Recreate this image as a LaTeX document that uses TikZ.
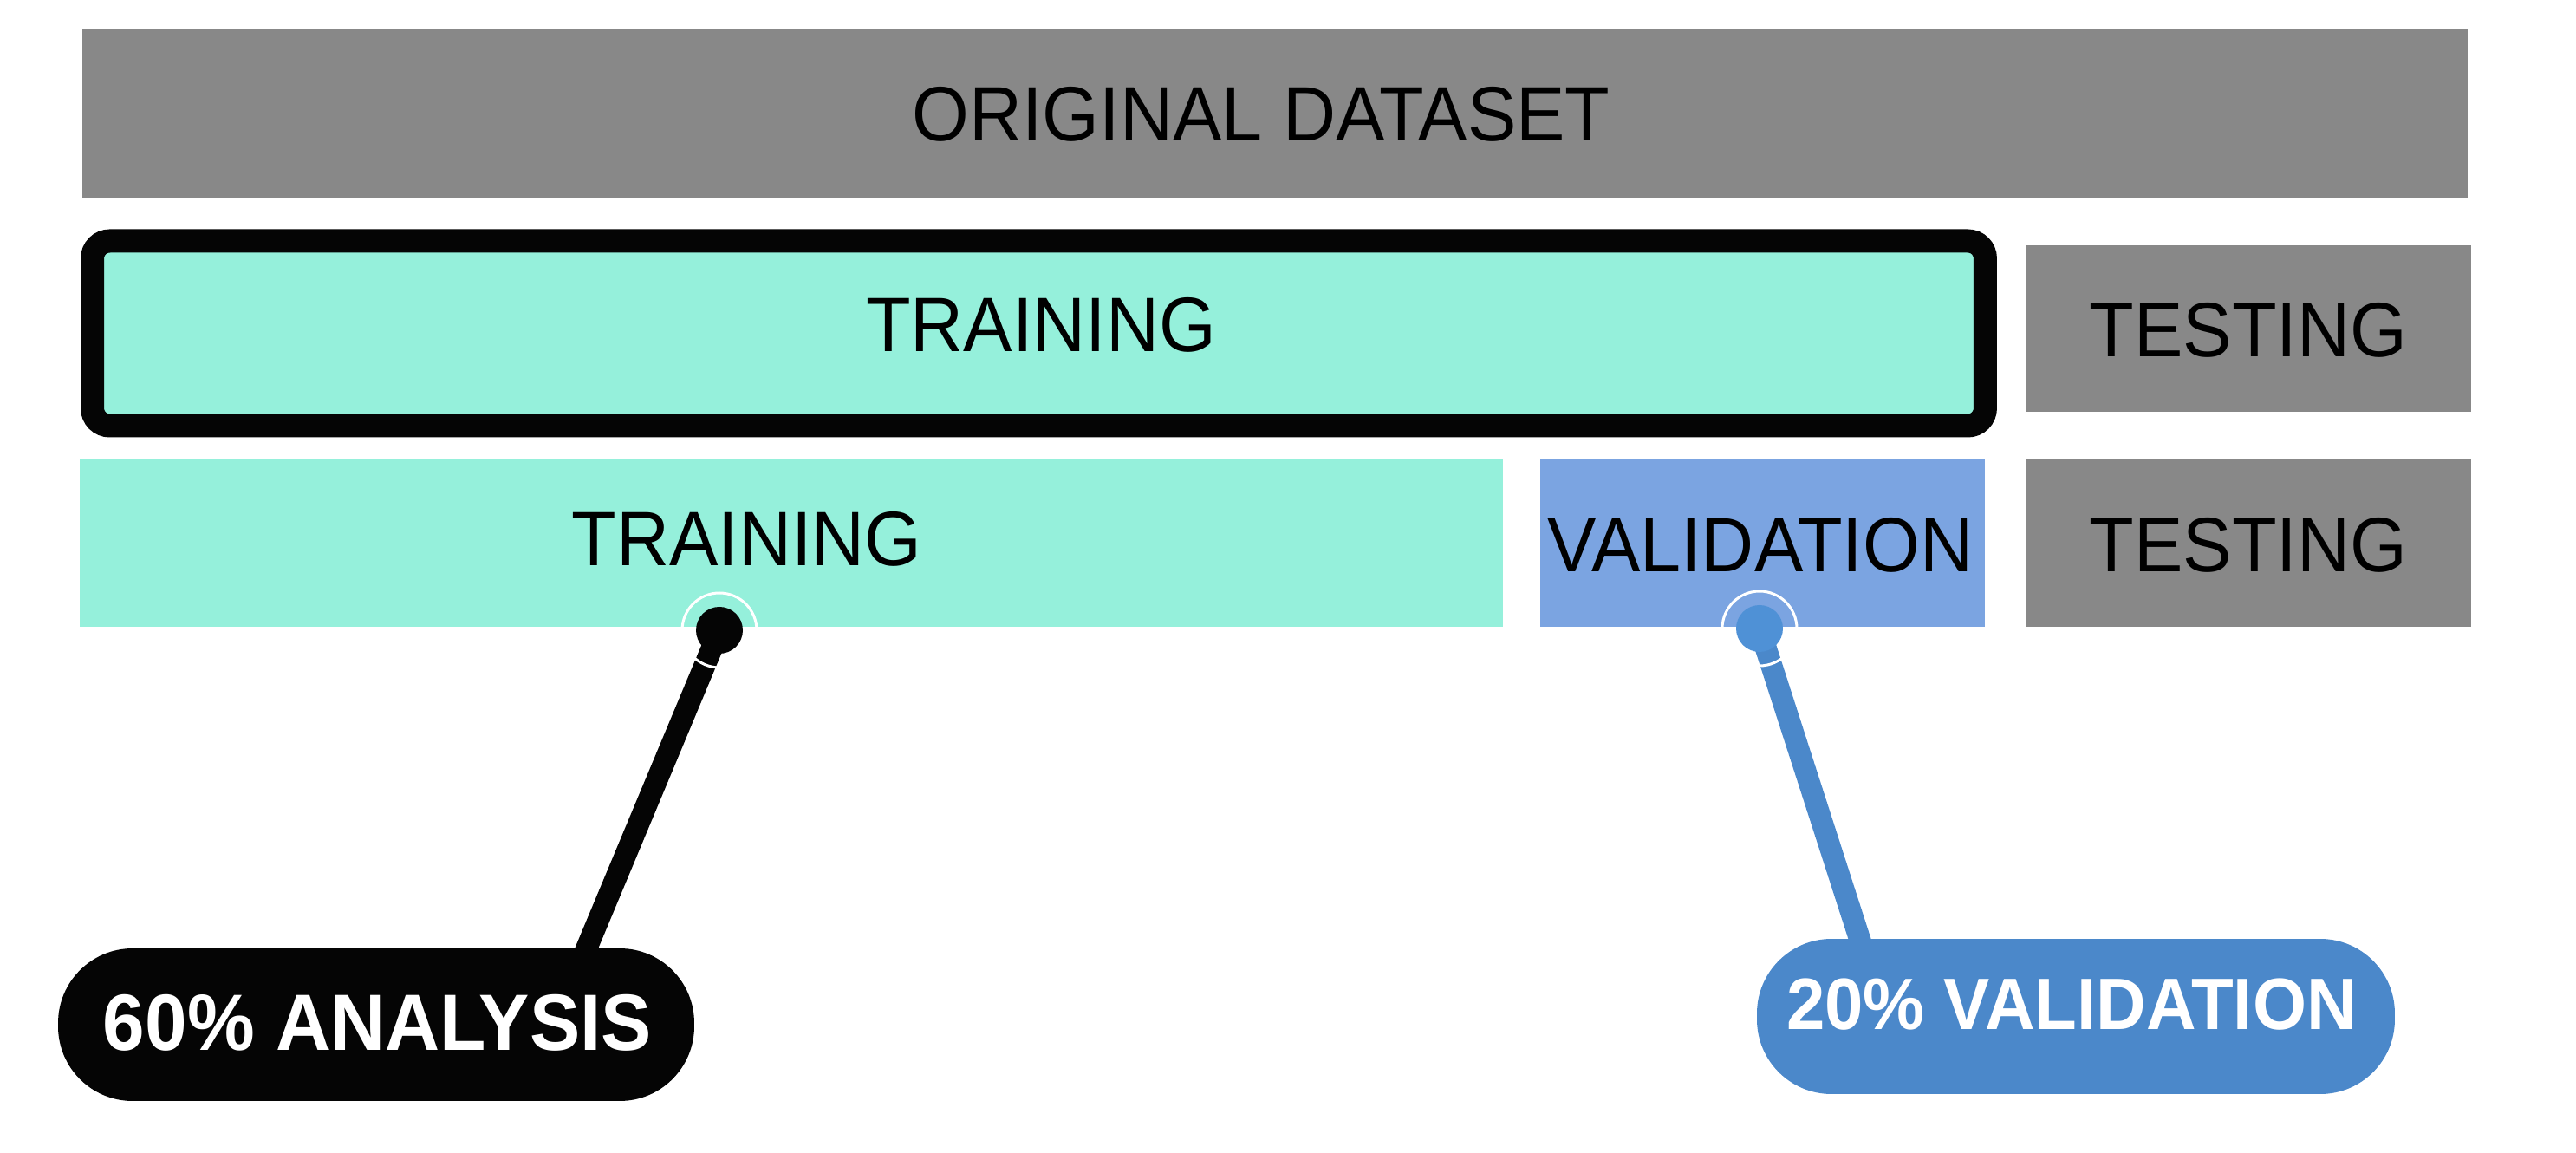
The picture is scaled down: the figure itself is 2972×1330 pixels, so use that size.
\documentclass[tikz,border=0pt]{standalone}
\usepackage{fontspec}
\setmainfont[FakeStretch=0.95]{Liberation Sans}
\definecolor{mint}{HTML}{95F0DB}
\definecolor{greybox}{HTML}{888888}
\definecolor{valfill}{HTML}{7BA4E1}
\definecolor{bubblue}{HTML}{4B88CA}
\definecolor{dotblue}{HTML}{4F91D6}
\definecolor{inkblack}{HTML}{050505}
\tikzset{
  box/.style={rectangle, inner sep=0pt, outer sep=0pt},
  lbl/.style={inner sep=0pt, outer sep=0pt, text=black, font=\fontsize{8.9}{9}\selectfont},
  bub/.style={rectangle, rounded corners=8.6pt, inner sep=0pt},
  bublbl/.style={inner sep=0pt, text=white},
  stem/.style={line width=2.5pt},
  ring/.style={draw=white, line width=0.3pt},
  dotnode/.style={circle, inner sep=0pt, minimum size=5.4pt}
}
\begin{document}
\begin{tikzpicture}[x=0.1pt, y=-0.1pt]
\useasboundingbox (0,0) rectangle (2972,1330);
% row 1
\node[box, fill=greybox, minimum width=275.2pt, minimum height=19.4pt] (orig) at (1471,131) {};
\node[lbl] (torig) at (1455,132) {ORIGINAL DATASET};
% row 2
\node[box, fill=mint, draw=inkblack, line width=2.7pt, rounded corners=2pt, minimum width=218.4pt, minimum height=21.3pt] (train2) at (1198.5,384.5) {};
\node[lbl] (ttrain2) at (1201,375) {TRAINING};
\node[box, fill=greybox, minimum width=51.4pt, minimum height=19.2pt] (test2) at (2594,379) {};
\node[lbl] (ttest2) at (2594,381) {TESTING};
% row 3
\node[box, fill=mint, minimum width=164.2pt, minimum height=19.4pt] (train3) at (913,626) {};
\node[lbl] (ttrain3) at (861.5,622) {TRAINING};
\node[box, fill=valfill, minimum width=51.3pt, minimum height=19.4pt] (val3) at (2033.5,626) {};
\node[lbl] (tval3) at (2031,629) {VALIDATION};
\node[box, fill=greybox, minimum width=51.4pt, minimum height=19.4pt] (test3) at (2594,626) {};
\node[lbl] (ttest3) at (2594,629) {TESTING};
% bubbles
\node[bub, fill=inkblack, minimum width=73.4pt, minimum height=17.6pt] (bub1) at (434,1182) {};
\node[bublbl, font=\fontsize{9.2}{10}\selectfont\bfseries] (tbub1) at (435.5,1180) {60\% ANALYSIS};
\node[bub, fill=bubblue, minimum width=73.6pt, minimum height=17.9pt] (bub2) at (2395,1172.5) {};
\node[bublbl, font=\fontsize{8.4}{9}\selectfont\bfseries] (tbub2) at (2390,1159) {20\% VALIDATION};
% callout stems
\coordinate (p1) at (830,727);
\coordinate (c1) at (670,1110);
\coordinate (p2) at (2030,725);
\coordinate (c2) at (2151,1100);
\draw[stem, inkblack] (p1) -- (c1);
\draw[stem, bubblue] (p2) -- (c2);
\draw[ring] (p1) circle[radius=4.3pt];
\draw[ring] (p2) circle[radius=4.3pt];
\node[dotnode, fill=inkblack] (d1) at (p1) {};
\node[dotnode, fill=dotblue] (d2) at (p2) {};
\end{tikzpicture}
\end{document}
